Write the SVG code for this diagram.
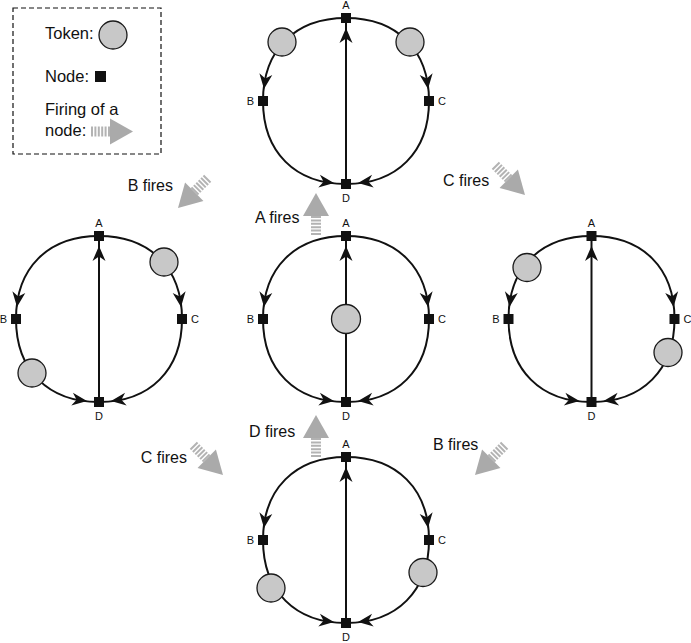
<svg xmlns="http://www.w3.org/2000/svg" xmlns:xlink="http://www.w3.org/1999/xlink" width="691" height="643" viewBox="0 0 691 643">
<style>
.edge{fill:none;stroke:#111;stroke-width:2}
.node{fill:#111}
.tok{fill:#c8c8c8;stroke:#1a1a1a;stroke-width:1.3}
.lbl{font-family:"Liberation Sans",Arial,sans-serif;font-size:11px;fill:#111}
.big{font-family:"Liberation Sans",Arial,sans-serif;font-size:16px;fill:#111}
.leg{font-family:"Liberation Sans",Arial,sans-serif;font-size:16.5px;fill:#111}
</style>
<defs>
<path id="ah" d="M0,0 L-15,-6.5 L-10.5,0 L-15,6.5 Z" fill="#111"/>
<g id="fire">
<line x1="-42" y1="0" x2="-21" y2="0" stroke="#b3b3b3" stroke-width="10" stroke-dasharray="2 1.4"/>
<polygon points="0,0 -23,-13 -23,13" fill="#aaaaaa"/>
</g>
<g id="edges">
<path class="edge" d="M0,-83 C-51,-83 -83,-51 -83,0"/>
<path class="edge" d="M0,-83 C51,-83 83,-51 83,0"/>
<path class="edge" d="M-83,0 C-83,51 -51,83 0,83"/>
<path class="edge" d="M83,0 C83,51 51,83 0,83"/>
<path class="edge" d="M0,83 L0,-83"/>
<use xlink:href="#ah" transform="translate(-82,-12) rotate(97)"/>
<use xlink:href="#ah" transform="translate(82,-12) rotate(83)"/>
<use xlink:href="#ah" transform="translate(-12,82) rotate(7)"/>
<use xlink:href="#ah" transform="translate(12,82) rotate(173)"/>
<use xlink:href="#ah" transform="translate(0,-73) rotate(-90)"/>
</g>
<g id="nodes">
<rect class="node" x="-5" y="-88" width="10" height="10"/>
<rect class="node" x="-88" y="-5" width="10" height="10"/>
<rect class="node" x="78" y="-5" width="10" height="10"/>
<rect class="node" x="-5" y="78" width="10" height="10"/>
<text class="lbl" x="0" y="-92" text-anchor="middle">A</text>
<text class="lbl" x="-92" y="4" text-anchor="end">B</text>
<text class="lbl" x="92" y="4">C</text>
<text class="lbl" x="0" y="101" text-anchor="middle">D</text>
</g>
</defs>

<g id="legend">
<rect x="13" y="8" width="148" height="146" fill="none" stroke="#111" stroke-width="1.2" stroke-dasharray="5 3"/>
<text class="leg" x="45" y="39">Token:</text>
<circle class="tok" cx="113" cy="35" r="14"/>
<text class="leg" x="45" y="82">Node:</text>
<rect class="node" x="95" y="71" width="11" height="11"/>
<text class="leg" x="45" y="115">Firing of a</text>
<text class="leg" x="45" y="136">node:</text>
<use xlink:href="#fire" transform="translate(133,131.5)"/>
</g>

<g id="connectors">
<use xlink:href="#edges" transform="translate(346,101)"/>
<use xlink:href="#edges" transform="translate(346,319)"/>
<use xlink:href="#edges" transform="translate(99,319)"/>
<use xlink:href="#edges" transform="translate(591.5,319)"/>
<use xlink:href="#edges" transform="translate(346,540)"/>
</g>

<g id="graph-top">
<use xlink:href="#nodes" transform="translate(346,101)"/>
<circle class="tok" cx="282" cy="42" r="14"/>
<circle class="tok" cx="410" cy="42" r="14"/>
</g>
<g id="graph-center">
<use xlink:href="#nodes" transform="translate(346,319)"/>
<circle class="tok" cx="346" cy="319" r="14.5"/>
</g>
<g id="graph-left">
<use xlink:href="#nodes" transform="translate(99,319)"/>
<circle class="tok" cx="164" cy="262" r="14"/>
<circle class="tok" cx="32" cy="373" r="14"/>
</g>
<g id="graph-right">
<use xlink:href="#nodes" transform="translate(591.5,319)"/>
<circle class="tok" cx="527" cy="267.5" r="14"/>
<circle class="tok" cx="668" cy="352.5" r="14"/>
</g>
<g id="graph-bottom">
<use xlink:href="#nodes" transform="translate(346,540)"/>
<circle class="tok" cx="271" cy="588" r="14"/>
<circle class="tok" cx="423" cy="572.5" r="14"/>
</g>

<g id="firings">
<use xlink:href="#fire" transform="translate(316,193) rotate(-90)"/>
<text class="big" x="255" y="223">A fires</text>
<use xlink:href="#fire" transform="translate(316,415) rotate(-90)"/>
<text class="big" x="249" y="437">D fires</text>
<use xlink:href="#fire" transform="translate(178,208) rotate(135)"/>
<text class="big" x="173" y="191" text-anchor="end">B fires</text>
<use xlink:href="#fire" transform="translate(525,195) rotate(45)"/>
<text class="big" x="443" y="186">C fires</text>
<use xlink:href="#fire" transform="translate(223,475) rotate(45)"/>
<text class="big" x="187" y="463" text-anchor="end">C fires</text>
<use xlink:href="#fire" transform="translate(475,475) rotate(135)"/>
<text class="big" x="433" y="450">B fires</text>
</g>
</svg>
